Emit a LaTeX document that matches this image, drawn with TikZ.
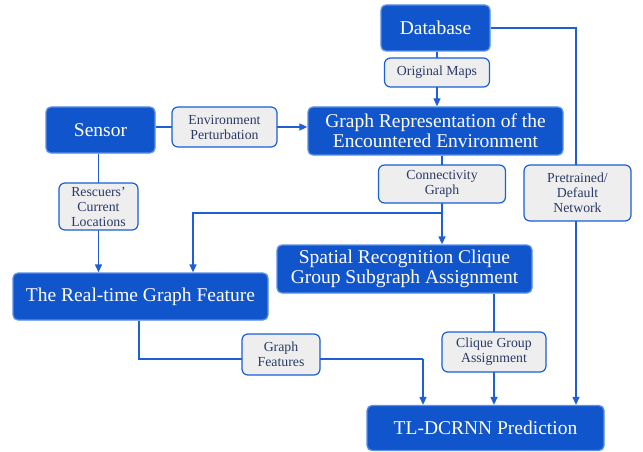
\documentclass[tikz,border=0pt]{standalone}
\usepackage{fontspec}
\setmainfont{Liberation Serif}
\usetikzlibrary{arrows.meta,backgrounds,calc}
\definecolor{boxfill}{HTML}{1155CC}
\definecolor{boxline}{HTML}{5A8FE6}
\definecolor{labfill}{HTML}{EEEEEE}
\definecolor{labline}{HTML}{1A5FD6}
\definecolor{labtext}{HTML}{2B3A67}
\definecolor{wire}{HTML}{1F5FD6}
\tikzset{
  mainbox/.style={draw=boxline, line width=1.3pt, fill=boxfill, rounded corners=5pt,
    text=white, align=center, inner sep=0pt,
    font=\fontsize{19.5}{20}\selectfont},
  labbox/.style={draw=labline, line width=1.2pt, fill=labfill, rounded corners=6pt,
    text=labtext, align=center, inner sep=0pt,
    font=\fontsize{13.8}{15}\selectfont},
  wireline/.style={draw=wire, line width=1.3pt},
  wirearrow/.style={wireline, -{Triangle[width=7pt,length=8pt]}}
}
\begin{document}
\begin{tikzpicture}[x=1pt,y=-1pt]
\useasboundingbox (0,0) rectangle (643,452);
% main boxes
\node[mainbox, minimum width=109pt, minimum height=46pt] (db) at (435.5,28) {Database};
\node[mainbox, minimum width=255pt, minimum height=48pt] (graph) at (435.5,131) {Graph Representation of the\\Encountered Environment};
\node[mainbox, minimum width=109pt, minimum height=46pt] (sensor) at (100.5,130) {Sensor};
\node[mainbox, minimum width=255pt, minimum height=48pt] (sp) at (404.5,269) {Spatial Recognition Clique\\Group Subgraph Assignment};
\node[mainbox, minimum width=255pt, minimum height=47pt] (rt) at (140.5,296.5) {The Real-time Graph Feature};
\node[mainbox, minimum width=237pt, minimum height=45pt] (tl) at (485.5,428) {TL-DCRNN Prediction};
% labels
\node[labbox, minimum width=105pt, minimum height=29pt] (om) at (437,72.5) {Original Maps};
\node[labbox, minimum width=105pt, minimum height=40pt] (ep) at (224.5,127) {Environment\\Perturbation};
\node[labbox, minimum width=127pt, minimum height=38pt] (cg) at (442,184) {Connectivity\\Graph};
\node[labbox, minimum width=107pt, minimum height=56pt] (pd) at (577.5,193) {Pretrained/\\Default\\Network};
\node[labbox, minimum width=79pt, minimum height=47pt] (rc) at (98.5,206.5) {Rescuers\symbol{39}\\Current\\Locations};
\node[labbox, minimum width=78pt, minimum height=41pt] (gf) at (281,354.5) {Graph\\Features};
\node[labbox, minimum width=104pt, minimum height=40pt] (cga) at (494,352) {Clique Group\\Assignment};
% junction points
\coordinate (j1) at (442,213);
\coordinate (j2) at (423,359);
\begin{pgfonlayer}{background}
\draw[wirearrow] (om.center |- db.south) -- (om.center |- graph.north);
\draw[wirearrow] (sensor.east |- ep.center) -- (ep.center -| graph.west);
\draw[wirearrow] (sensor.south -| rc.center) -- (rc.center |- rt.north);
\draw[wirearrow] (cg.center |- graph.south) -- (cg.center |- sp.north);
\draw[wirearrow] (j1) -| ([xshift=52.5pt]rt.north);
\draw[wirearrow] (db.east) -| ([xshift=90.5pt]tl.north);
\draw[wireline] ([xshift=-1.5pt]rt.south) |- (j2);
\draw[wirearrow] (j2) -- (j2 |- tl.north);
\draw[wirearrow] (cga.center |- sp.south) -- (cga.center |- tl.north);
\end{pgfonlayer}
\end{tikzpicture}
\end{document}
